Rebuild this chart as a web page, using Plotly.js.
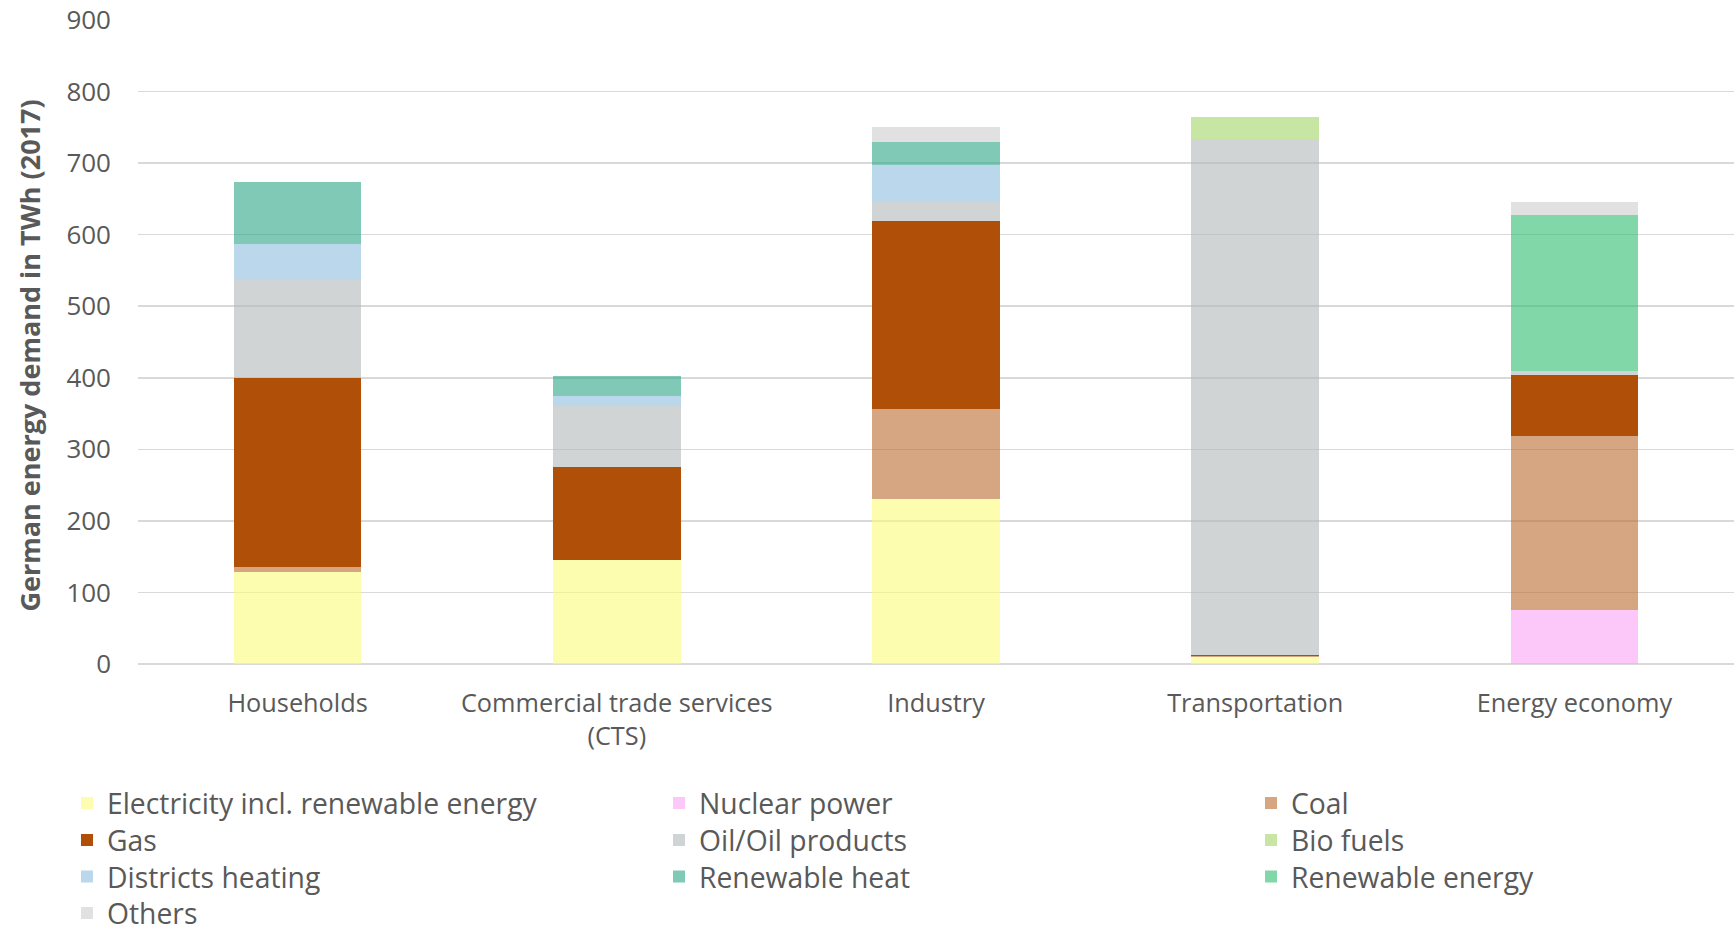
<!DOCTYPE html>
<html>
<head>
<meta charset="utf-8">
<script src="https://cdn.plot.ly/plotly-3.0.1.min.js"></script>
<style>html,body{margin:0;padding:0;background:#fff;}#chart{width:1734px;height:927px;}</style>
</head>
<body>
<div id="chart"></div>
<script>
// Categories (x axis)
const categories = ["Households", "Commercial trade services<br>(CTS)", "Industry", "Transportation", "Energy economy"];

// Series values in TWh (2017), stacked bottom to top
const electricity     = [129, 146, 231, 10, 0];
const nuclear         = [0, 0, 0, 0, 75];
const coal            = [6, 0, 126, 1, 243];
const gas             = [265, 129, 262, 1, 86];
const oil             = [136, 86, 27, 722, 6];
const bioFuels        = [0, 0, 0, 31, 0];
const districtHeating = [51, 14, 51, 0, 0];
const renewableHeat   = [87, 27, 33, 0, 0];
const renewableEnergy = [0, 0, 0, 0, 217];
const others          = [0, 0, 21, 0, 19];

const seriesNames = ["Electricity incl. renewable energy", "Nuclear power", "Coal", "Gas",
  "Oil/Oil products", "Bio fuels", "Districts heating", "Renewable heat", "Renewable energy", "Others"];
const seriesValues = [electricity, nuclear, coal, gas, oil, bioFuels, districtHeating, renewableHeat, renewableEnergy, others];
const seriesColors = ["rgba(252,252,122,0.6)", "rgba(250,163,247,0.6)", "rgba(187,107,47,0.6)", "rgb(176,79,7)",
  "rgba(178,183,183,0.6)", "rgba(163,213,102,0.6)", "rgba(142,188,223,0.6)", "rgba(43,165,133,0.6)",
  "rgba(47,188,110,0.6)", "rgba(203,205,203,0.6)"];
// legend layout: row-major, 3 columns (one legend per row)
const legendRow    = ["legend", "legend", "legend", "legend2", "legend2", "legend2", "legend3", "legend3", "legend3", "legend4"];
const legendColumn = [0, 1, 2, 0, 1, 2, 0, 1, 2, 0];
const columnWidths = [547, 547, 250];

const traces = seriesValues.map((vals, i) => ({
  type: "bar",
  name: seriesNames[i],
  x: categories,
  y: vals,
  marker: {color: seriesColors[i], line: {width: 0}},
  legend: legendRow[i],
  legendwidth: columnWidths[legendColumn[i]],
  hoverinfo: "x+y+name"
}));

const FONT = "Open Sans, Liberation Sans, sans-serif";
const legendBase = {
  orientation: "h", yanchor: "top", xanchor: "left", x: -0.04449,
  font: {family: FONT, size: 28.3, color: "#595959"},
  traceorder: "normal", bgcolor: "rgba(0,0,0,0)", borderwidth: 0
};

const layout = {
  width: 1734, height: 927,
  margin: {l: 138, r: 0, t: 20, b: 263, autoexpand: false},
  paper_bgcolor: "#ffffff", plot_bgcolor: "#ffffff",
  barmode: "stack", bargap: 0.6,
  font: {family: FONT, color: "#595959"},
  xaxis: {
    type: "category", showgrid: false, zeroline: false, showline: false, ticks: "",
    tickfont: {family: FONT, size: 25.3, color: "#595959"}, ticklabelstandoff: 22
  },
  yaxis: {
    range: [0, 900], dtick: 100, tick0: 0, showgrid: true, gridcolor: "#d9d9d9", gridwidth: 1.5,
    zeroline: true, zerolinecolor: "#d9d9d9", zerolinewidth: 1.5, showline: false, ticks: "",
    tickfont: {family: FONT, size: 26, color: "#595959"}, ticklabelstandoff: 26
  },
  showlegend: true,
  legend:  Object.assign({}, legendBase, {y: -0.1772}),
  legend2: Object.assign({}, legendBase, {y: -0.2346}),
  legend3: Object.assign({}, legendBase, {y: -0.2913}),
  legend4: Object.assign({}, legendBase, {y: -0.3480}),
  annotations: [{
    text: "German energy demand in TWh (2017)", textangle: -90,
    xref: "paper", yref: "paper", x: 0, y: 0.479, xshift: -108,
    xanchor: "center", yanchor: "middle", showarrow: false,
    font: {family: FONT, size: 27, color: "#595959", weight: "bold"}
  }]
};

Plotly.newPlot("chart", traces, layout, {displayModeBar: false, staticPlot: true});
</script>
</body>
</html>
